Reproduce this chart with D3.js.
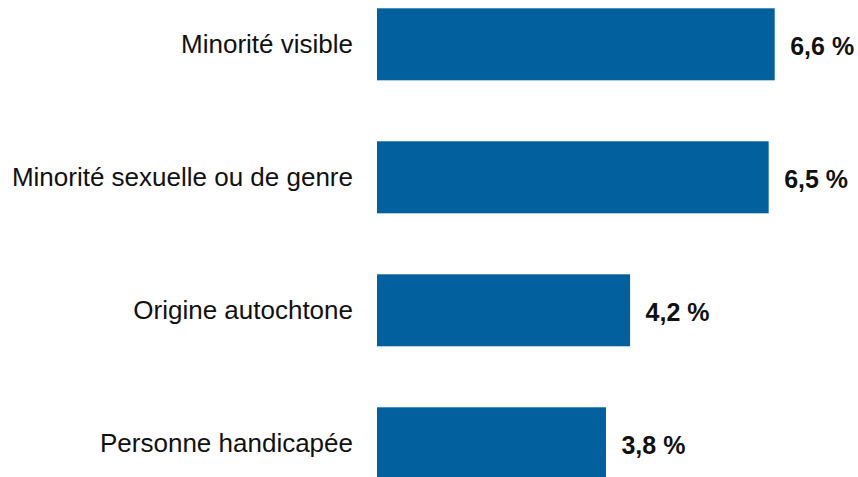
<!DOCTYPE html>
<html>
<head>
<meta charset="utf-8">
<script src="https://cdn.jsdelivr.net/npm/d3@7"></script>
<style>
  html, body { margin: 0; padding: 0; background: #ffffff; }
  svg { display: block; }
</style>
</head>
<body>
<svg id="chart" width="858" height="477"></svg>
<script>
// Share of each group (per cent)
const categories = [
  "Minorité visible",
  "Minorité sexuelle ou de genre",
  "Origine autochtone",
  "Personne handicapée"
];
const values = [6.6, 6.5, 4.2, 3.8];
const valueLabels = ["6,6 %", "6,5 %", "4,2 %", "3,8 %"];

const width = 858, height = 477;
const svg = d3.select("#chart");

const x = d3.scaleLinear().domain([0, 6.6]).range([377, 774.7]);
const y = d3.scaleBand()
  .domain(categories)
  .range([8.3, 479.3])
  .paddingInner(0.4586)
  .paddingOuter(0);

const barColor = "#02609e";

// Bars
svg.append("g")
  .selectAll("rect")
  .data(categories)
  .join("rect")
  .attr("x", x(0))
  .attr("y", d => y(d))
  .attr("width", (d, i) => x(values[i]) - x(0))
  .attr("height", y.bandwidth())
  .attr("fill", barColor);

// Category labels, right-aligned against the bars
svg.append("g")
  .selectAll("text")
  .data(categories)
  .join("text")
  .attr("x", 353)
  .attr("y", d => y(d) + y.bandwidth() / 2 + 9)
  .attr("text-anchor", "end")
  .attr("font-family", "Liberation Sans, Arial, sans-serif")
  .attr("font-size", "26px")
  .attr("fill", "#111111")
  .text(d => d);

// Value labels at the end of each bar
svg.append("g")
  .selectAll("text")
  .data(categories)
  .join("text")
  .attr("x", (d, i) => x(values[i]) + 15.5)
  .attr("y", d => y(d) + y.bandwidth() / 2 + 10.6)
  .attr("font-family", "Liberation Sans, Arial, sans-serif")
  .attr("font-size", "25px")
  .attr("font-weight", "bold")
  .attr("fill", "#111111")
  .text((d, i) => valueLabels[i]);
</script>
</body>
</html>
